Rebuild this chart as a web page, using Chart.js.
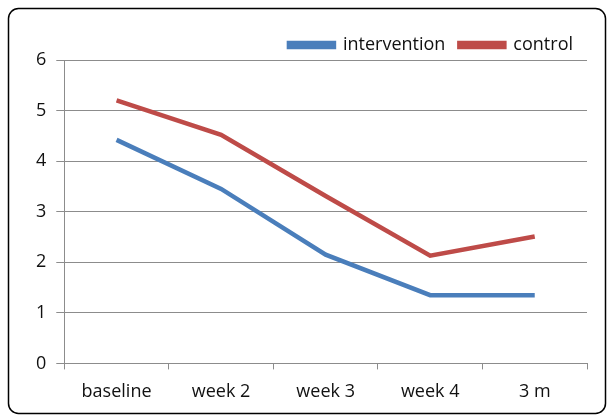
<!DOCTYPE html>
<html>
<head>
<meta charset="utf-8">
<script src="https://cdn.jsdelivr.net/npm/chart.js@4"></script>
<style>
  html, body { margin: 0; padding: 0; background: #fff; }
  #wrap { width: 607px; height: 417px; position: relative; }
</style>
</head>
<body>
<div id="wrap"><canvas id="chart_followUp"></canvas></div>
<script>
var categories = ['baseline', 'week 2', 'week 3', 'week 4', '3 m'];
var interventionValues = [4.42, 3.45, 2.15, 1.35, 1.35];
var controlValues = [5.2, 4.52, 3.31, 2.13, 2.51];
var yTicks = [0, 1, 2, 3, 4, 5, 6];

var textColor = '#111111';
var gridColor = '#8c8c8c';
var fontFamily = "'Open Sans', sans-serif";

var chart_followUp = new Chart(document.getElementById('chart_followUp'), {
    type: 'line',
    data: {
        labels: categories,
        datasets: [
            {
                label: 'intervention',
                data: interventionValues,
                borderColor: '#4a7ebb',
                backgroundColor: '#4a7ebb',
                borderWidth: 4.5,
                pointRadius: 0,
                tension: 0
            },
            {
                label: 'control',
                data: controlValues,
                borderColor: '#be4b48',
                backgroundColor: '#be4b48',
                borderWidth: 4.5,
                pointRadius: 0,
                tension: 0
            }
        ]
    },
    options: {
        animation: false,
        responsive: true,
        maintainAspectRatio: false,
        layout: {
            padding: { top: 22, left: 26, right: 20, bottom: 2 }
        },
        plugins: {
            legend: {
                display: true,
                position: 'top',
                align: 'end',
                maxHeight: 38,
                labels: {
                    boxWidth: 45,
                    boxHeight: 4,
                    padding: 14,
                    color: textColor,
                    font: { family: fontFamily, size: 18 }
                }
            },
            tooltip: { enabled: false }
        },
        scales: {
            x: {
                offset: true,
                grid: {
                    display: true,
                    offset: true,
                    drawOnChartArea: false,
                    drawTicks: true,
                    tickLength: 6,
                    color: gridColor
                },
                border: { color: gridColor, width: 1 },
                ticks: {
                    color: textColor,
                    padding: 12,
                    maxRotation: 0,
                    font: { family: fontFamily, size: 18 }
                }
            },
            y: {
                min: 0,
                max: 6,
                afterBuildTicks: function(scale) {
                    scale.ticks = yTicks.map(function(v) { return { value: v }; });
                },
                grid: {
                    color: gridColor,
                    lineWidth: 1,
                    drawTicks: true,
                    tickLength: 8
                },
                border: { color: gridColor, width: 1 },
                ticks: {
                    color: textColor,
                    padding: 10,
                    font: { family: fontFamily, size: 18 }
                }
            }
        }
    },
    plugins: [{
        id: 'roundedFrame',
        beforeDraw: (chart) => {
            const ctx = chart.ctx;
            ctx.save();
            ctx.fillStyle = 'white';
            ctx.fillRect(0, 0, chart.width, chart.height);
            ctx.strokeStyle = '#000';
            ctx.lineWidth = 1.5;
            ctx.beginPath();
            ctx.roundRect(8.5, 8.5, chart.width - 10, chart.height - 12, 10);
            ctx.stroke();
            ctx.restore();
        }
    }]
});
</script>
</body>
</html>
